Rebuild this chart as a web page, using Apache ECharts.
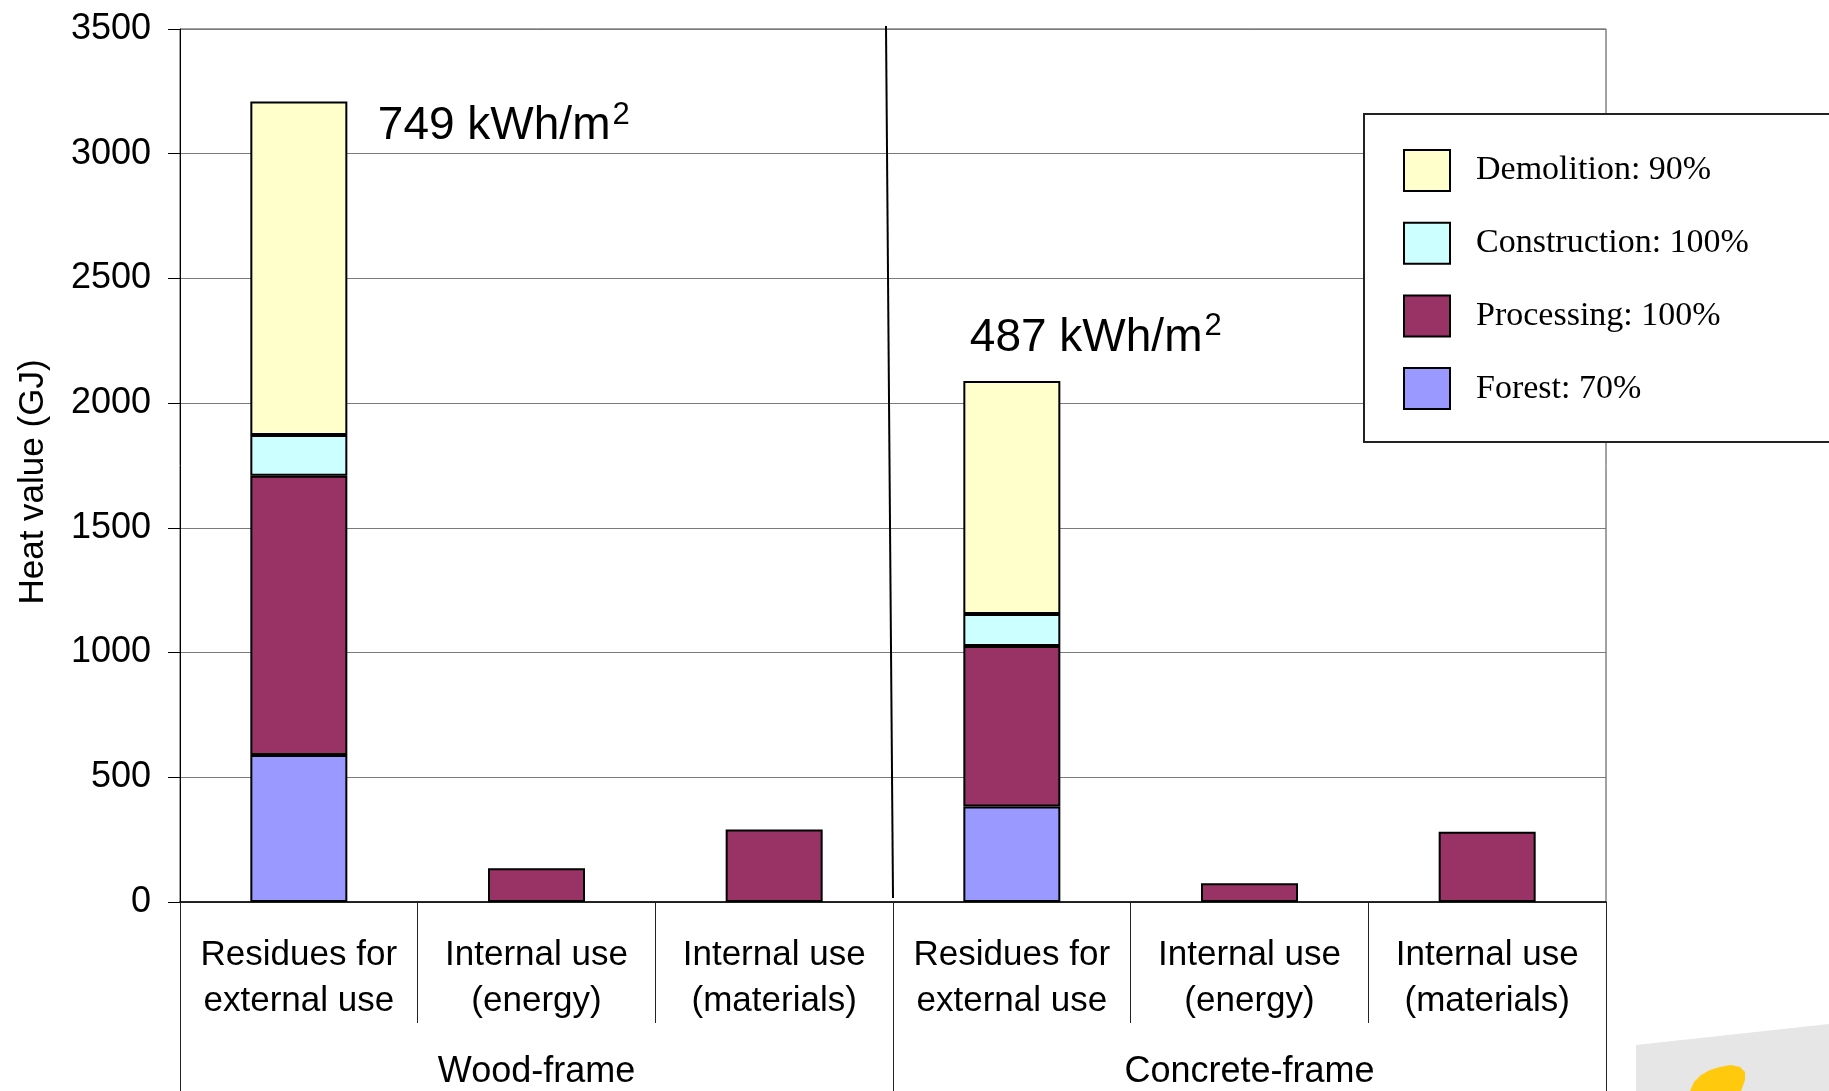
<!DOCTYPE html>
<html>
<head>
<meta charset="utf-8">
<title>Heat value of wood residues</title>
<script src="https://cdn.jsdelivr.net/npm/echarts@6/dist/echarts.min.js"></script>
<style>
  html, body { margin: 0; padding: 0; background: #fff; }
  #chart { width: 1829px; height: 1091px; }
</style>
</head>
<body>
<div id="chart"></div>
<script>
// Residue categories for each building type
const categories = [
  'Residues for\nexternal use', 'Internal use\n(energy)', 'Internal use\n(materials)',
  'Residues for\nexternal use', 'Internal use\n(energy)', 'Internal use\n(materials)'
];
const groups = ['Wood-frame', 'Concrete-frame'];

// Heat value per life-cycle stage (GJ), stacked bottom to top
const forest       = [589, null, null, 383, null, null];
const processing   = [1120, 135, 291, 643, 75, 282];
const construction = [163, null, null, 129, null, null];
const demolition   = [1337, null, null, 934, null, null];

// Legend entries (recovery share per stage)
const seriesNames = ['Forest: 70%', 'Processing: 100%', 'Construction: 100%', 'Demolition: 90%'];
const legendOrder = ['Demolition: 90%', 'Construction: 100%', 'Processing: 100%', 'Forest: 70%'];
const seriesColors = ['#9999FF', '#993366', '#CCFFFF', '#FFFFCC'];

// Totals per floor area, shown beside the tall bars
const areaTotals = [
  { index: 0, value: '749', dx: 79, dy: 25 },
  { index: 3, value: '487', dx: -42, dy: -43 }
];

const yTicks = { min: 0, max: 3500, interval: 500 };

const SANS = "'Liberation Sans', Arial, sans-serif";
const SERIF = "'Liberation Serif', 'Times New Roman', serif";

const stacks = [forest, processing, construction, demolition];

const chart = echarts.init(document.getElementById('chart'), null, { renderer: 'canvas' });

const option = {
  animation: false,
  backgroundColor: '#ffffff',
  grid: {
    left: 180, right: 223, top: 29, bottom: 189,
    show: true, borderColor: '#444', borderWidth: 1, backgroundColor: 'transparent'
  },
  legend: {
    orient: 'vertical',
    left: 1364, top: 114,
    padding: [35, 200, 32, 39],
    itemWidth: 46, itemHeight: 41, itemGap: 29.7,
    backgroundColor: '#ffffff',
    borderColor: '#222', borderWidth: 2,
    selectedMode: false,
    icon: 'rect',
    data: legendOrder,
    itemStyle: { borderColor: '#000', borderWidth: 2 },
    textStyle: { fontFamily: SERIF, fontSize: 34, lineHeight: 41, color: '#000', padding: [0, 0, 0, 21] }
  },
  xAxis: [
    {
      type: 'category',
      data: categories,
      axisLine: { lineStyle: { color: '#000', width: 1.5 } },
      axisTick: { show: true, interval: 0, length: 121, lineStyle: { color: '#222', width: 1 } },
      axisLabel: {
        interval: 0, margin: 30, color: '#000',
        fontFamily: SANS, fontSize: 35, lineHeight: 46
      },
      z: 3
    },
    {
      type: 'category',
      data: groups,
      position: 'bottom',
      axisLine: { show: false },
      axisTick: { show: true, interval: 0, length: 189, lineStyle: { color: '#222', width: 1 } },
      axisLabel: {
        interval: 0, margin: 152, color: '#000',
        fontFamily: SANS, fontSize: 36
      }
    }
  ],
  yAxis: {
    type: 'value',
    min: yTicks.min, max: yTicks.max, interval: yTicks.interval,
    name: 'Heat value (GJ)',
    nameLocation: 'middle',
    nameGap: 129,
    nameTextStyle: { fontFamily: SANS, fontSize: 35, color: '#000', padding: [0, 33, 0, 0] },
    axisLine: { show: true, lineStyle: { color: '#000', width: 1 } },
    axisTick: { show: true, inside: false, length: 12, lineStyle: { color: '#000' } },
    axisLabel: {
      margin: 29, color: '#000', fontFamily: SANS, fontSize: 36,
      formatter: v => String(v)
    },
    splitLine: { show: true, lineStyle: { color: '#7a7a7a', width: 1.2 } }
  },
  series: stacks.map((values, i) => ({
    name: seriesNames[i],
    type: 'bar',
    stack: 'total',
    barWidth: 97,
    data: values,
    itemStyle: { color: seriesColors[i], borderColor: '#000', borderWidth: 2 },
    emphasis: { disabled: true },
    z: 4
  }))
};

chart.setOption(option);

// Stack totals per category, used to place the kWh/m² notes
const totals = categories.map((_, c) =>
  stacks.reduce((sum, s) => sum + (s[c] || 0), 0)
);

const graphics = [];

areaTotals.forEach(a => {
  const p = chart.convertToPixel({ xAxisIndex: 0, yAxisIndex: 0 }, [a.index, totals[a.index]]);
  graphics.push({
    type: 'text',
    x: p[0] + a.dx,
    y: p[1] + a.dy,
    z: 10,
    style: {
      text: '{n|' + a.value + ' kWh/m}{s|2}',
      verticalAlign: 'middle',
      align: 'left',
      rich: {
        n: { fontFamily: SANS, fontSize: 46, color: '#000', lineHeight: 54, verticalAlign: 'middle' },
        s: { fontFamily: SANS, fontSize: 31, color: '#000', lineHeight: 32, verticalAlign: 'top', padding: [0, 0, 0, 2] }
      }
    }
  });
});

// Slanted divider between the two building types
const pA = chart.convertToPixel({ xAxisIndex: 0, yAxisIndex: 0 }, [2, yTicks.max]);
const pB = chart.convertToPixel({ xAxisIndex: 0, yAxisIndex: 0 }, [3, yTicks.min]);
const divX = (pA[0] + pB[0]) / 2;
graphics.push({
  type: 'line',
  z: 10,
  shape: { x1: divX - 7, y1: pA[1] - 3, x2: divX, y2: pB[1] - 4 },
  style: { stroke: '#000', lineWidth: 2 }
});

// Corner logo
graphics.push({
  type: 'polygon',
  z: 1,
  shape: { points: [[1636, 1045], [1829, 1024], [1829, 1091], [1636, 1091]] },
  style: { fill: '#e6e6e6' }
});
graphics.push({
  type: 'polygon',
  z: 2,
  shape: {
    points: [
      [1690, 1091], [1694, 1082], [1701, 1075], [1710, 1070], [1720, 1067],
      [1731, 1065], [1740, 1067], [1745, 1072], [1745, 1080], [1741, 1091]
    ]
  },
  style: { fill: '#ffc90e' }
});

chart.setOption({ graphic: graphics });
</script>
</body>
</html>
